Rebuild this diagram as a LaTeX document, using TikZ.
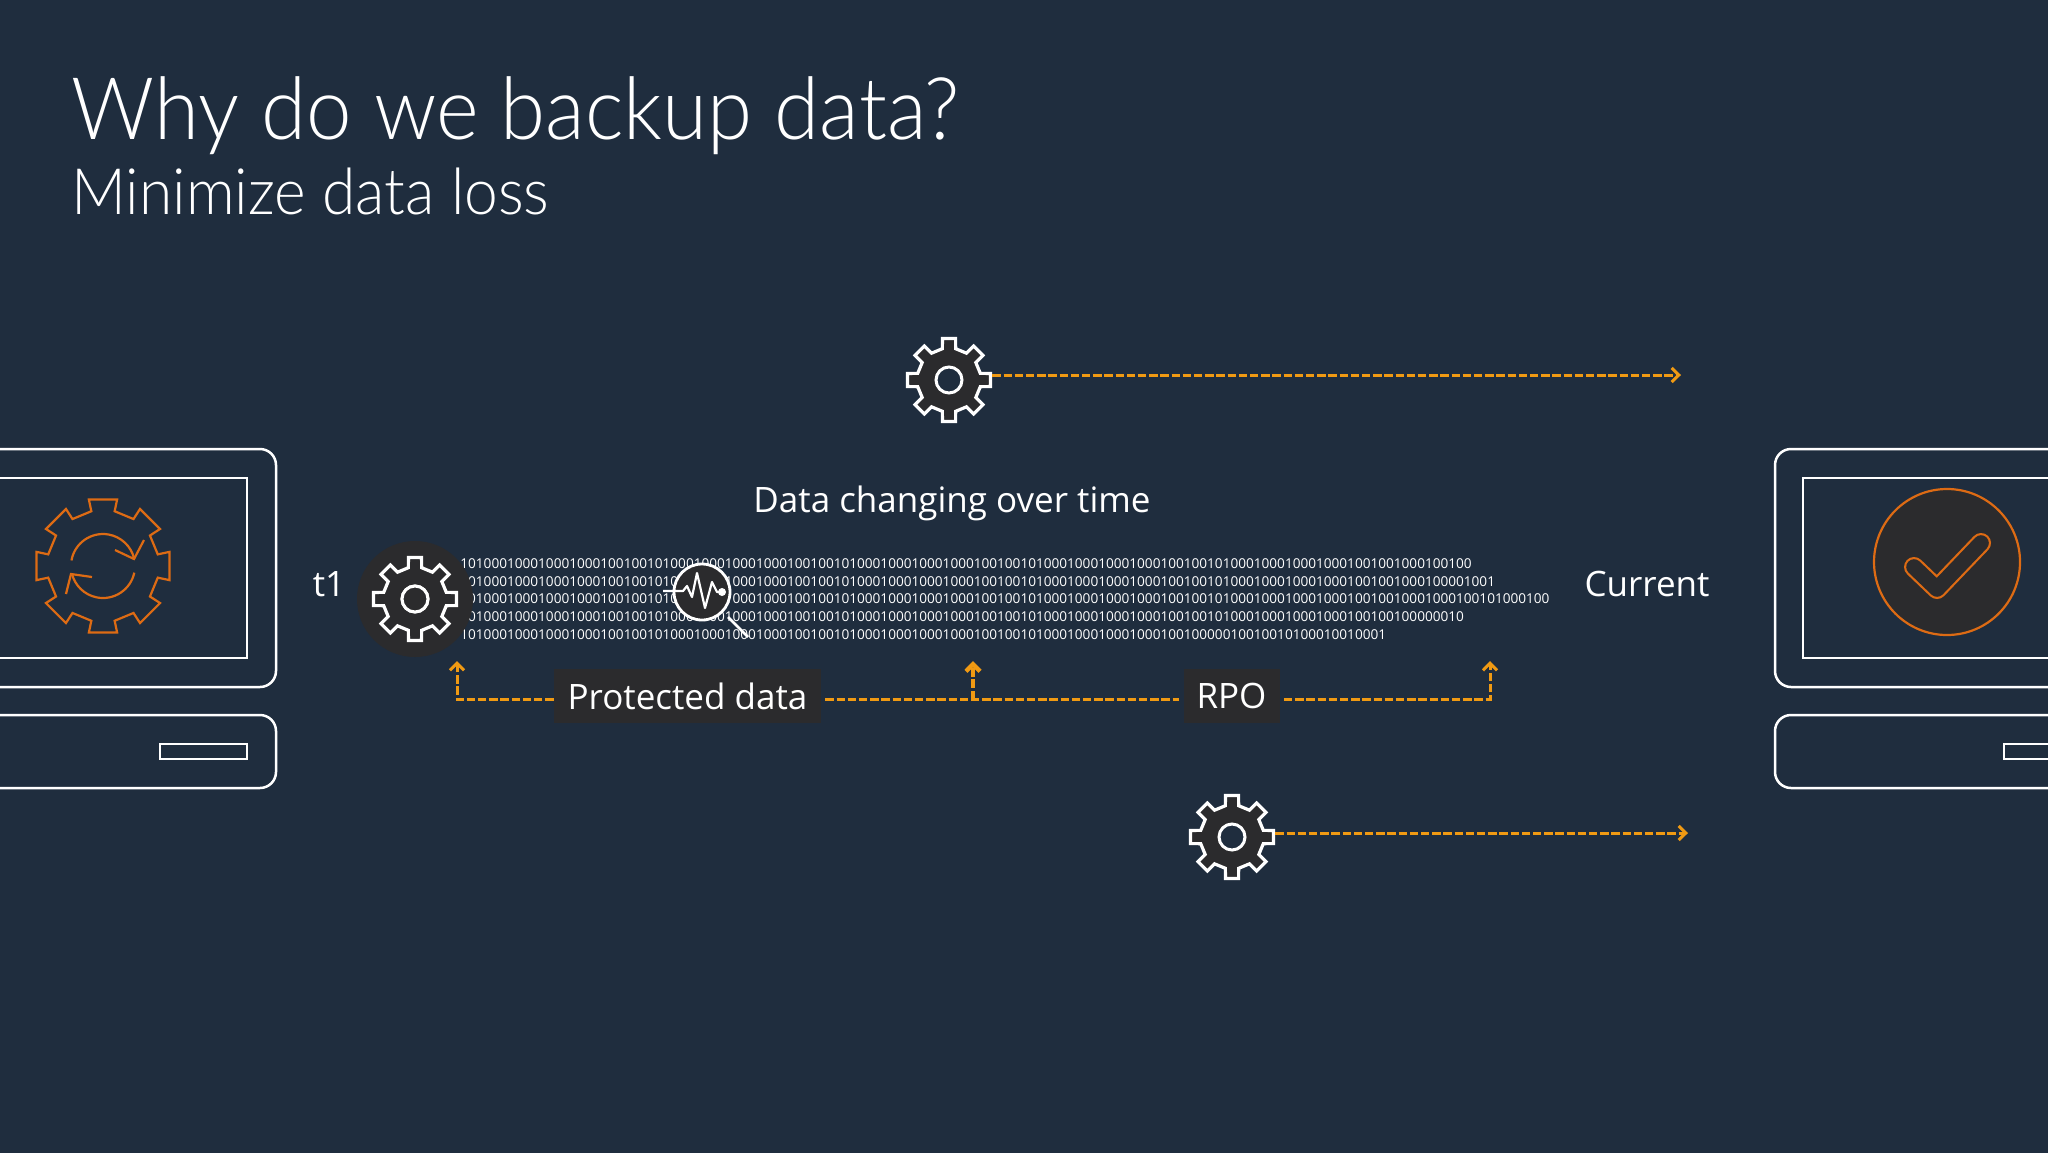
\documentclass[tikz,border=0pt]{standalone}
\usepackage{fontspec}
\setmainfont{Open Sans}
\newfontfamily\lightfont{Lato Light}[FakeStretch=0.945]
\usetikzlibrary{arrows.meta, positioning}
\definecolor{slidebg}{HTML}{1F2D3E}
\definecolor{darkfill}{HTML}{2B2B2D}
\definecolor{flowline}{HTML}{F09A13}
\definecolor{iconline}{HTML}{DD6B14}
\newcommand{\bitunit}{101000100010001000100100}
\tikzset{
x=.5pt, y=-.5pt,
flow/.style={draw=flowline, line width=1.5pt, dash pattern=on 4.2pt off 1.4pt}, % the dashed orange lines
flowtip/.style={-{Straight Barb[length=3.6pt,width=7pt]}},
label/.style={text=white, font=\fontsize{17.5}{20}\selectfont, inner sep=0pt},
tag/.style={label, fill=darkfill, minimum height=27pt, anchor=center},
screen/.style={draw=white, line width=1.25pt},
slab/.style={screen, rounded corners=8pt},
gearnode/.style={circle, draw=none, inner sep=0pt, minimum size=43pt},
orangeline/.style={iconline, line width=1.1pt},
}
\begin{document}
\begin{tikzpicture}
    \useasboundingbox (0,0) rectangle (2048,1152);
    \fill[slidebg] (-10,-10) rectangle (2058,1162);

    % titles
    \node[anchor=base west, inner sep=0pt, text=white, font=\lightfont\fontsize{43.2}{50}\selectfont] (title) at (71,139) {Why do we backup data?};
    \node[anchor=base west, inner sep=0pt, text=white, font=\lightfont\fontsize{32}{36}\selectfont] (subtitle) at (71,214) {Minimize data loss};

    % left machine
    \draw[slab] (-20,449) rectangle (276,687);
    \draw[screen] (-20,478) rectangle (247,658);
    \draw[slab] (-20,715) rectangle (276,788);
    \draw[screen] (160,744) rectangle (247,759);
    % orange gear
    \draw[orangeline] ([shift={(103,566)}]78:68) \foreach \a in {90,135,...,405} {
        -- ([shift={(103,566)}]\a-12:68) -- ([shift={(103,566)}]\a+12:68)
        -- ([shift={(103,566)}]\a+12:56) -- ([shift={(103,566)}]\a+33:56)
      } -- cycle;
    \draw[orangeline] ([shift={(103,566)}]190:32) arc[start angle=190, end angle=347, radius=32];
    \draw[orangeline] ([shift={(103,566)}]12:32) arc[start angle=12, end angle=166, radius=32];
    \draw[orangeline] (115,550) -- (134,559) -- (144,540);
    \draw[orangeline] (92,577) -- (71,574) -- (66,594);

    % right machine
    \draw[slab] (1775,449) rectangle (2070,687);
    \draw[screen] (1803,478) rectangle (2070,658);
    \draw[slab] (1775,715) rectangle (2070,788);
    \draw[screen] (2004,744) rectangle (2070,759);
    \node[circle, draw=iconline, fill=darkfill, line width=1.1pt, minimum size=73pt, inner sep=0pt] (done) at (1947,562) {};
    \draw[iconline, line width=10pt, line cap=round, line join=round] (1914,567) -- (1937,589) -- (1981,543);
    \draw[darkfill, line width=7.8pt, line cap=round, line join=round] (1914,567) -- (1937,589) -- (1981,543);

    % the data
    \node[label, anchor=center] (changing) at (952,503.5) {Data changing over time};
    \node[label, anchor=center] (tone) at (329,584) {t1};
    \node[label, anchor=center] (current) at (1647,584) {Current};
    \node[anchor=north west, inner sep=0pt, text=white, align=left, font=\fontsize{6.8}{8.9}\selectfont] (bits) at (460,558) {%
      \bitunit\bitunit\bitunit\bitunit\bitunit 1000100100\\
      \bitunit\bitunit\bitunit\bitunit\bitunit 1000100001001\\
      \bitunit\bitunit\bitunit\bitunit\bitunit 10001000100101000100\\
      \bitunit\bitunit\bitunit\bitunit\bitunit 100000010\\
      \bitunit\bitunit\bitunit\bitunit 00010010010100010010001};

    % gears, the left one on a disc
    \node[circle, fill=darkfill, minimum size=58pt, inner sep=0pt] (tonedisc) at (415,599) {};
    \foreach \gx/\gy/\gname in {415/599/gearleft, 949/380/geartop, 1232/837/gearbottom} {
      \node[gearnode] (\gname) at (\gx,\gy) {};
      \draw[white, fill=darkfill, line width=1.6pt] ([shift={(\gx,\gy)}]81:42) \foreach \a in {90,135,...,405} {
          -- ([shift={(\gx,\gy)}]\a-9:42) -- ([shift={(\gx,\gy)}]\a+9:42)
          -- ([shift={(\gx,\gy)}]\a+12:32) -- ([shift={(\gx,\gy)}]\a+33:32)
        } -- cycle;
      \draw[white, fill=slidebg, line width=1.5pt] (\gx,\gy) circle[radius=13];
    }
    \draw[white, fill=darkfill, line width=1.5pt] (415,599) circle[radius=13];

    % magnifier
    \draw[white, line width=1.3pt] (728,617) -- (748,637);
    \node[circle, draw=white, fill=darkfill, line width=1.4pt, minimum size=28pt, inner sep=0pt] (lens) at (702,592) {};
    \draw[white, line width=1.1pt, line join=round] (663,591) -- (683,591) -- (687,586) -- (692,597) -- (697,573) -- (705,608) -- (712,582) -- (717,592) -- (723,592);
    \fill[white] (722,592) circle[radius=4];

    % tags and connectors
    \node[tag, minimum width=133.5pt] (protected) at (687.5,696) {Protected data};
    \node[tag, minimum width=48pt] (rpo) at (1231.5,696) {RPO};
    \coordinate (tipleft) at (457,661);
    \coordinate (tipmid) at (973,661);
    \coordinate (tipright) at (1490,661);
    \coordinate (topend) at (1681,375);
    \coordinate (bottomend) at (1688,833);
    \draw[flow, flowtip] (protected.west |- 0,699) -| (tipleft);
    \draw[flow, shorten <=2pt, shorten >=2pt] (protected.east |- 0,699) -- (rpo.west |- 0,699);
    \draw[flow, flowtip, line width=2.2pt] (tipmid |- 0,699) -- (tipmid);
    \draw[flow, flowtip, shorten <=2pt] (rpo.east |- 0,699) -| (tipright);
    \draw[flow, flowtip] (geartop.east |- topend) -- (topend);
    \draw[flow, flowtip] (gearbottom.east |- bottomend) -- (bottomend);
\end{tikzpicture}
\end{document}
